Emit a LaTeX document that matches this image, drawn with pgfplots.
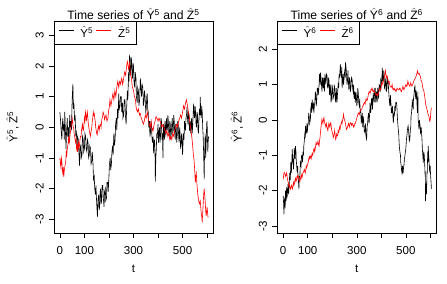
\documentclass[border=0pt]{standalone}
\usepackage{fontspec}
\setmainfont{Liberation Sans}
\usepackage{pgfplots}
\pgfplotsset{compat=1.18}

\pgfplotsset{
  rpanel/.style={
    scale only axis,
    width=159bp, height=212bp,
    xmin=-24, xmax=624,
    axis line style={line width=0.6bp},
    tick style={line width=0.6bp, black},
    tick align=outside,
    major tick length=5bp,
    xtick pos=bottom, ytick pos=left,
    xtick={0,100,200,300,400,500,600},
    xticklabels={0,100,,300,,500,},
    tick label style={font=\fontsize{11.6}{13}\selectfont},
    xticklabel style={anchor=base},
    xticklabel shift=16.5bp,
    yticklabel style={rotate=90, anchor=base},
    yticklabel shift=5.5bp,
    title style={font=\fontsize{12.2}{14}\selectfont, at={(axis description cs:0.5,1)}, anchor=base, yshift=-4.6bp, inner sep=0.5bp},
    xlabel={t},
    xlabel style={font=\fontsize{11.6}{13}\selectfont, at={(axis description cs:0.5,-0.1873)}, anchor=base},
    ylabel style={font=\fontsize{11.6}{13}\selectfont, rotate=0, anchor=base},
    legend columns=2,
    legend style={at={(axis description cs:0,1)}, anchor=north west, draw=black, line width=0.6bp,
      font=\fontsize{11.6}{13}\selectfont, inner xsep=4bp, inner ysep=3bp,
      nodes={inner sep=2bp},
      /tikz/every odd column/.append style={column sep=4.5bp},
      /tikz/every even column/.append style={column sep=1bp}},
    legend image code/.code={\draw[#1, line width=0.6bp] (0bp,2.5bp) -- (15bp,2.5bp);},
    every axis plot/.append style={line width=0.6bp},
  }
}

\begin{document}
\begin{tikzpicture}
\path[use as bounding box] (0,0) rectangle (447bp,284bp);

% Left panel
\begin{axis}[rpanel,
  at={(54bp,51bp)}, anchor=south west,
  ymin=-3.45, ymax=3.47,
  ytick={-3,-2,-1,0,1,2,3},
  yticklabels={-3,-2,-1,0,1,2,3},
  title={Time series of $\hat{\mathrm{Y}}^{\mathrm{5}}$ and $\hat{\mathrm{Z}}^{\mathrm{5}}$},
  ylabel={$\hat{\mathrm{Y}}^{\mathrm{5}}$, $\hat{\mathrm{Z}}^{\mathrm{5}}$},
  ylabel style={at={(axis description cs:-0.2296,0.5)}},
]
\addplot[black] coordinates {
(0,0.5)(3,0.2)(5,-0.1)(8,-0.4)(10,0.1)(12,0.3)(14,-0.1)(16,0.1)(18,-0.4)(20,0.5)(22,0.0)(25,-0.7)(27,-0.2)(30,0.3)(32,-0.3)(35,0.0)(37,-0.5)(40,0.4)(42,0.0)(45,0.2)(47,-0.1)(50,0.9)(53,1.42)(55,0.6)(57,0.8)(60,0.2)(62,0.4)(65,-0.3)(67,-0.1)(70,-0.7)(72,-0.3)(75,-0.4)(78,-0.9)(80,-1.25)(82,-0.7)(85,-0.6)(87,-1.0)(90,-0.9)(92,-0.3)(95,-0.4)(97,-0.8)(100,-0.7)(102,-0.2)(105,-0.3)(107,-0.7)(110,-0.8)(112,-0.4)(115,-0.5)(117,-1.0)(120,-0.9)(122,-0.6)(125,-0.7)(127,-1.2)(130,-1.1)(132,-0.8)(135,-1.2)(137,-1.7)(140,-1.6)(142,-2.0)(145,-2.2)(147,-1.9)(150,-2.5)(153,-2.92)(155,-2.4)(158,-2.2)(160,-2.7)(162,-2.6)(164,-2.1)(166,-2.0)(168,-2.5)(170,-2.4)(172,-1.9)(175,-1.9)(177,-2.3)(180,-2.6)(182,-2.1)(185,-2.0)(187,-2.4)(190,-2.3)(192,-1.8)(195,-1.8)(197,-2.1)(200,-1.6)(202,-1.2)(205,-1.0)(207,-1.4)(210,-1.2)(212,-0.8)(215,-0.6)(217,-0.9)(220,-0.2)(222,-0.6)(225,-0.4)(227,0.1)(230,0.3)(232,-0.1)(235,0.6)(237,0.3)(240,1.1)(242,0.6)(245,0.7)(247,1.0)(250,1.0)(252,0.5)(255,0.8)(257,0.3)(260,0.4)(262,0.9)(265,0.9)(267,0.4)(270,0.1)(272,0.6)(275,1.2)(277,0.9)(280,1.8)(282,1.5)(284,2.37)(286,1.9)(288,1.7)(290,2.3)(292,2.2)(294,1.7)(296,1.6)(298,2.1)(300,2.0)(302,1.5)(305,1.3)(307,1.8)(310,1.6)(312,1.0)(315,0.8)(317,1.3)(320,1.2)(322,0.7)(325,0.9)(328,1.6)(330,1.3)(333,1.0)(335,1.4)(338,1.3)(340,0.7)(342,0.8)(345,1.2)(347,1.0)(350,0.5)(352,0.6)(354,1.0)(356,1.1)(358,0.6)(360,0.5)(362,0.0)(365,0.2)(367,-0.3)(369,-0.2)(371,0.2)(373,0.1)(375,-0.3)(377,-0.5)(380,-0.3)(382,-0.85)(384,-0.5)(386,-0.4)(388,-1.0)(389,-1.77)(391,-1.0)(393,-0.7)(395,-0.2)(397,-0.3)(400,0.1)(402,-0.5)(404,-0.2)(406,0.0)(408,-0.5)(410,-0.3)(412,0.3)(414,0.2)(416,-0.4)(418,-0.2)(420,-1.0)(422,0.1)(424,-0.1)(426,-0.4)(428,0.2)(430,0.0)(432,-0.3)(434,0.3)(436,0.0)(438,-0.1)(440,0.4)(442,0.2)(444,-0.2)(446,-0.3)(448,0.2)(450,0.1)(452,-0.4)(454,-0.2)(456,0.1)(458,0.3)(460,-0.2)(462,-0.1)(464,0.4)(466,0.2)(468,-0.2)(470,-0.4)(472,0.1)(474,0.0)(476,-0.5)(478,-0.3)(480,0.2)(482,0.1)(484,-0.3)(486,-0.5)(488,0.0)(490,-0.2)(492,-0.7)(494,-0.6)(496,-0.2)(498,-0.3)(500,-0.9)(502,-0.5)(504,-0.2)(506,-0.4)(508,0.2)(510,0.0)(512,-0.1)(514,0.3)(516,0.4)(518,0.66)(520,0.3)(522,0.1)(524,0.5)(526,0.4)(528,-0.1)(530,-0.1)(531,0.2)(533,-0.2)(535,0.1)(537,0.3)(539,-0.2)(541,0.0)(543,0.4)(545,0.77)(547,0.4)(549,0.3)(551,0.7)(553,0.5)(555,0.1)(557,0.0)(559,0.5)(561,0.4)(563,-0.1)(565,-0.2)(567,0.3)(569,0.6)(571,0.4)(572,0.99)(574,0.5)(576,0.3)(578,0.7)(580,0.5)(582,0.0)(584,-0.3)(586,-0.9)(588,-1.7)(589,-1.1)(591,-0.6)(592,-0.2)(594,-1.0)(596,-0.6)(597,-0.2)(599,0.2)(600,0.2)(601,-0.3)(603,-0.8)(604,-0.5)(606,-0.3)
};
\addplot[red] coordinates {
(0,-1.0)(2,-1.2)(4,-1.3)(6,-1.0)(8,-1.1)(10,-1.4)(12,-1.5)(14,-1.3)(16,-1.62)(18,-1.4)(20,-1.3)(22,-1.2)(24,-1.1)(26,-0.8)(28,-0.9)(30,-0.7)(32,-0.6)(34,-0.5)(36,-0.3)(38,-0.5)(40,-0.4)(42,-0.2)(44,-0.1)(46,0.1)(48,0.1)(50,0.3)(52,0.2)(54,0.0)(56,0.0)(58,-0.2)(60,-0.3)(62,-0.4)(64,-0.5)(66,-0.4)(68,-0.7)(70,-0.6)(72,-0.8)(74,-0.6)(76,-0.5)(78,-0.7)(80,-0.6)(82,-0.4)(84,-0.3)(86,-0.3)(88,-0.1)(90,0.0)(92,0.1)(94,-0.1)(96,-0.1)(98,0.1)(100,0.3)(102,0.2)(104,0.5)(106,0.4)(108,0.2)(110,0.4)(112,0.5)(114,0.3)(116,0.1)(118,0.0)(120,-0.1)(122,-0.2)(124,-0.3)(126,-0.2)(128,-0.1)(130,0.0)(132,0.2)(134,0.3)(136,0.5)(138,0.4)(140,0.45)(142,0.3)(144,0.2)(146,0.0)(148,-0.1)(150,-0.2)(152,-0.25)(154,-0.1)(156,0.0)(158,0.05)(160,-0.1)(162,0.0)(164,0.1)(166,0.1)(168,0.0)(170,0.2)(172,0.3)(174,0.35)(176,0.5)(178,0.45)(180,0.4)(182,0.25)(184,0.3)(186,0.35)(188,0.4)(190,0.3)(192,0.2)(194,0.25)(196,0.3)(198,0.5)(200,0.6)(202,0.7)(204,0.9)(206,0.8)(208,0.7)(210,0.8)(212,0.9)(214,1.0)(216,1.1)(218,1.0)(220,0.9)(222,1.05)(224,1.2)(226,1.1)(228,1.0)(230,1.15)(232,1.3)(234,1.4)(236,1.5)(238,1.4)(240,1.3)(242,1.45)(244,1.5)(246,1.45)(248,1.4)(250,1.55)(252,1.6)(254,1.5)(256,1.4)(258,1.5)(260,1.6)(262,1.7)(264,1.8)(266,1.75)(268,1.7)(270,1.85)(272,2.0)(274,2.1)(276,2.15)(278,2.0)(280,1.9)(282,2.0)(284,2.1)(286,1.9)(288,1.7)(290,1.65)(292,1.6)(294,1.4)(296,1.3)(298,1.25)(300,1.2)(302,1.1)(304,1.0)(306,0.95)(308,0.9)(310,0.7)(312,0.6)(314,0.55)(316,0.5)(318,0.55)(320,0.6)(322,0.5)(324,0.4)(326,0.45)(328,0.45)(330,0.35)(332,0.3)(334,0.25)(336,0.2)(338,0.15)(340,0.1)(342,0.15)(344,0.2)(346,0.3)(348,0.4)(350,0.35)(352,0.3)(354,0.4)(356,0.5)(358,0.4)(360,0.3)(362,0.2)(364,0.1)(366,0.05)(368,0.0)(370,0.1)(372,0.2)(374,0.05)(376,-0.1)(378,-0.05)(380,-0.1)(382,0.0)(384,0.1)(386,0.15)(388,0.2)(390,0.3)(392,0.35)(394,0.3)(396,0.3)(398,0.25)(400,0.2)(402,0.25)(404,0.3)(406,0.25)(408,0.2)(410,0.15)(412,0.1)(414,0.05)(416,0.0)(418,0.05)(420,0.1)(422,0.05)(424,0.0)(426,-0.05)(428,-0.1)(430,-0.15)(432,-0.2)(434,-0.15)(436,-0.1)(438,-0.2)(440,-0.3)(442,-0.25)(444,-0.2)(446,-0.3)(448,-0.4)(450,-0.35)(452,-0.3)(454,-0.35)(456,-0.4)(458,-0.3)(460,-0.2)(462,-0.25)(464,-0.3)(466,-0.2)(468,-0.1)(470,-0.05)(472,0.0)(474,0.05)(476,0.1)(478,0.05)(480,0.0)(482,0.1)(484,0.2)(486,0.25)(488,0.3)(490,0.35)(492,0.4)(494,0.35)(496,0.3)(498,0.4)(500,0.5)(502,0.6)(504,0.7)(506,0.65)(508,0.6)(510,0.7)(512,0.8)(514,0.85)(516,0.9)(518,0.8)(520,0.7)(522,0.6)(524,0.5)(526,0.4)(528,0.3)(530,0.15)(532,0.0)(534,-0.1)(536,-0.2)(538,-0.35)(540,-0.5)(542,-0.7)(544,-0.9)(546,-1.0)(548,-1.2)(550,-1.5)(552,-1.8)(554,-1.6)(556,-1.5)(558,-1.8)(560,-2.0)(562,-2.2)(564,-2.3)(566,-2.4)(568,-2.5)(570,-2.45)(572,-2.4)(574,-2.6)(576,-2.8)(578,-2.9)(580,-3.1)(582,-2.8)(584,-2.5)(586,-2.2)(588,-2.0)(590,-2.2)(592,-2.4)(594,-2.7)(596,-2.9)(598,-2.75)(600,-2.6)(602,-2.8)(604,-2.95)
};
\legend{$\hat{\mathrm{Y}}^{\mathrm{5}}$, $\hat{\mathrm{Z}}^{\mathrm{5}}$}
\end{axis}

% Right panel
\begin{axis}[rpanel,
  at={(277.3bp,51bp)}, anchor=south west,
  ymin=-3.2, ymax=2.8,
  ytick={-3,-2,-1,0,1,2},
  yticklabels={-3,-2,-1,0,1,2},
  title={Time series of $\hat{\mathrm{Y}}^{\mathrm{6}}$ and $\hat{\mathrm{Z}}^{\mathrm{6}}$},
  ylabel={$\hat{\mathrm{Y}}^{\mathrm{6}}$, $\hat{\mathrm{Z}}^{\mathrm{6}}$},
  ylabel style={at={(axis description cs:-0.2246,0.5)}},
]
\addplot[black] coordinates {
(0,-2.15)(2,-2.4)(3,-2.67)(5,-2.3)(6,-2.2)(8,-2.5)(9,-2.0)(11,-2.1)(12,-2.3)(14,-1.9)(16,-2.2)(18,-2.0)(20,-1.8)(22,-2.1)(24,-1.9)(26,-1.6)(27,-1.49)(29,-1.7)(31,-1.2)(33,-1.5)(34,-1.4)(36,-1.0)(37,-0.83)(39,-1.2)(40,-1.1)(42,-1.4)(43,-1.3)(45,-0.8)(46,-0.9)(48,-1.1)(50,-0.74)(52,-0.9)(53,-1.1)(55,-1.3)(57,-1.49)(59,-1.3)(61,-1.7)(63,-1.8)(64,-1.96)(66,-1.6)(68,-1.6)(70,-1.2)(73,-1.3)(75,-1.0)(77,-1.0)(79,-1.2)(81,-0.9)(83,-1.0)(84,-0.74)(86,-0.6)(88,-0.4)(90,-0.5)(91,-0.17)(93,-0.4)(95,-0.3)(97,-0.1)(98,-0.36)(100,-0.2)(102,-0.1)(104,0.2)(106,0.1)(108,-0.1)(111,0.02)(112,0.3)(114,0.4)(116,0.2)(118,0.58)(120,0.4)(121,0.3)(123,0.5)(125,0.2)(127,0.4)(129,0.5)(131,0.8)(133,0.7)(135,0.4)(137,0.6)(139,0.9)(141,0.9)(143,0.7)(146,0.96)(148,1.3)(149,1.2)(151,1.0)(152,1.34)(154,1.2)(156,1.0)(158,0.8)(160,1.2)(162,1.0)(163,0.9)(165,1.2)(166,1.06)(168,0.8)(170,1.3)(172,1.1)(174,1.0)(176,1.3)(179,1.25)(181,0.9)(183,0.9)(185,1.2)(187,1.1)(189,0.7)(190,0.8)(192,1.0)(193,0.87)(195,0.5)(197,0.6)(199,1.0)(201,0.9)(203,0.6)(206,0.68)(208,1.0)(210,0.9)(212,0.6)(214,0.5)(216,0.9)(217,0.8)(219,0.5)(220,0.58)(222,0.8)(224,1.0)(226,0.9)(228,1.3)(230,1.2)(233,1.58)(235,1.3)(237,1.2)(239,1.5)(240,0.9)(242,1.1)(244,1.3)(246,1.0)(247,1.06)(249,1.3)(251,1.4)(253,1.2)(254,1.63)(256,1.5)(258,1.3)(260,1.0)(262,1.1)(264,1.4)(265,1.2)(267,0.9)(268,0.87)(270,1.2)(272,1.1)(274,0.8)(276,0.9)(278,1.2)(281,1.15)(283,0.9)(285,0.8)(287,1.0)(289,0.6)(291,0.8)(294,0.49)(296,0.8)(298,0.7)(300,0.4)(302,0.5)(304,0.9)(306,0.77)(308,0.5)(310,0.4)(312,0.6)(314,0.2)(316,0.3)(318,-0.1)(320,0.02)(322,0.2)(324,-0.2)(326,0.1)(328,0.0)(330,-0.3)(333,-0.36)(335,-0.1)(336,-0.2)(338,-0.5)(340,-0.55)(342,-0.2)(344,-0.1)(346,0.1)(348,0.2)(350,-0.1)(351,0.0)(353,0.3)(354,0.49)(356,0.2)(358,0.3)(360,0.6)(362,0.6)(364,0.3)(367,0.77)(369,0.6)(371,0.5)(373,0.9)(375,0.9)(377,0.5)(378,0.6)(380,0.8)(381,0.68)(383,0.5)(385,0.9)(387,0.8)(389,0.6)(391,1.0)(394,0.96)(396,0.8)(398,1.2)(399,1.0)(401,1.0)(403,1.3)(404,1.48)(406,1.1)(408,1.1)(410,1.4)(411,1.3)(413,0.9)(415,0.87)(417,1.1)(419,1.2)(421,0.8)(423,0.9)(425,1.2)(428,1.06)(430,0.8)(431,0.7)(433,0.5)(435,0.39)(437,0.7)(439,0.5)(441,0.2)(443,0.2)(445,0.4)(446,0.3)(448,0.0)(449,-0.08)(451,0.2)(453,0.1)(455,0.4)(457,0.3)(459,0.5)(462,0.49)(464,0.3)(465,0.1)(467,-0.1)(469,-0.27)(471,-0.4)(472,-0.6)(474,-0.8)(476,-0.92)(478,-1.0)(479,-1.2)(481,-1.3)(482,-1.4)(484,-1.5)(486,-1.3)(488,-1.5)(489,-1.49)(491,-1.3)(492,-1.3)(494,-1.1)(496,-1.02)(498,-0.9)(500,-0.8)(502,-0.6)(503,-0.5)(505,-0.4)(506,-0.3)(508,-0.2)(509,-0.17)(511,-0.3)(512,-0.4)(514,-0.6)(516,-0.55)(518,-0.3)(520,-0.2)(521,0.1)(523,0.2)(525,0.4)(526,0.58)(528,0.4)(530,0.3)(531,0.6)(533,0.7)(535,0.9)(537,0.96)(539,0.7)(540,0.6)(542,0.8)(543,0.77)(545,0.5)(547,0.2)(549,0.8)(550,0.0)(552,-0.1)(553,-0.27)(555,0.0)(557,-0.1)(559,-0.3)(560,-0.4)(562,-0.2)(564,-0.36)(566,-0.6)(567,-0.8)(569,-1.0)(571,-1.21)(573,-0.9)(575,-1.0)(577,-1.3)(578,-1.5)(579,-1.49)(580,-2.3)(582,-1.8)(584,-2.1)(586,-1.5)(587,-1.5)(589,-0.9)(590,-1.2)(591,-0.74)(593,-1.0)(594,-1.1)(596,-1.4)(598,-1.49)(599,-1.3)(601,-1.6)(603,-1.8)(604,-1.95)
};
\addplot[red] coordinates {
(0,-1.68)(3,-1.5)(6,-1.49)(8,-1.55)(10,-1.6)(12,-1.55)(14,-1.5)(16,-1.6)(18,-1.7)(20,-1.75)(22,-1.8)(24,-1.9)(26,-1.85)(28,-1.9)(30,-1.96)(32,-1.9)(34,-1.85)(36,-1.9)(38,-1.95)(40,-1.85)(42,-1.77)(44,-1.85)(46,-1.8)(48,-1.7)(50,-1.65)(52,-1.75)(54,-1.7)(56,-1.6)(58,-1.58)(60,-1.65)(62,-1.6)(64,-1.65)(66,-1.7)(68,-1.75)(70,-1.68)(72,-1.6)(74,-1.55)(76,-1.65)(78,-1.6)(80,-1.5)(82,-1.49)(84,-1.45)(86,-1.4)(88,-1.45)(90,-1.5)(92,-1.4)(94,-1.3)(96,-1.35)(98,-1.3)(100,-1.25)(102,-1.2)(104,-1.1)(106,-1.05)(108,-1.1)(110,-1.02)(112,-1.05)(114,-1.1)(116,-1.0)(118,-0.95)(120,-1.0)(122,-0.92)(124,-0.85)(126,-0.8)(128,-0.9)(130,-0.85)(132,-0.75)(134,-0.64)(136,-0.7)(138,-0.7)(140,-0.65)(142,-0.6)(144,-0.7)(146,-0.74)(148,-0.6)(150,-0.5)(152,-0.35)(154,-0.2)(156,-0.1)(158,0.02)(160,-0.05)(162,-0.1)(164,0.0)(166,0.06)(168,-0.05)(170,-0.1)(172,-0.15)(174,-0.2)(176,-0.1)(178,-0.17)(180,-0.25)(182,-0.3)(184,-0.2)(186,-0.1)(188,-0.15)(190,-0.2)(192,-0.1)(194,-0.08)(196,-0.2)(198,-0.3)(200,-0.35)(202,-0.4)(204,-0.5)(206,-0.45)(208,-0.4)(210,-0.3)(212,-0.45)(214,-0.55)(216,-0.5)(218,-0.4)(220,-0.45)(222,-0.45)(224,-0.3)(226,-0.35)(228,-0.3)(230,-0.2)(232,-0.25)(234,-0.17)(236,-0.1)(238,-0.05)(240,-0.1)(242,0.0)(244,0.05)(246,0.16)(248,0.05)(250,0.0)(252,-0.05)(254,-0.1)(256,-0.2)(258,-0.27)(260,-0.25)(262,-0.2)(264,-0.15)(266,-0.1)(268,-0.15)(270,-0.2)(272,-0.1)(274,-0.08)(276,-0.1)(278,-0.15)(280,-0.1)(282,-0.1)(284,-0.15)(286,-0.2)(288,-0.15)(290,-0.17)(292,-0.1)(294,-0.1)(296,-0.05)(298,0.0)(300,0.05)(302,0.1)(304,0.15)(306,0.2)(308,0.2)(310,0.15)(312,0.2)(314,0.25)(316,0.3)(318,0.3)(320,0.3)(322,0.35)(324,0.4)(326,0.4)(328,0.45)(330,0.49)(332,0.5)(334,0.45)(336,0.55)(338,0.6)(340,0.55)(342,0.55)(344,0.6)(346,0.68)(348,0.75)(350,0.8)(352,0.8)(354,0.75)(356,0.8)(358,0.87)(360,0.85)(362,0.9)(364,0.85)(366,0.8)(368,0.8)(370,0.85)(372,0.8)(374,0.77)(376,0.75)(378,0.7)(380,0.7)(382,0.75)(384,0.7)(386,0.68)(388,0.75)(390,0.8)(392,0.85)(394,0.9)(396,0.85)(398,0.85)(400,0.95)(402,1.06)(404,1.05)(406,1.0)(408,1.1)(410,1.15)(412,1.2)(414,1.3)(416,1.35)(417,1.39)(418,1.3)(420,1.2)(422,1.25)(424,1.25)(426,1.15)(428,1.06)(430,1.1)(432,1.1)(434,1.0)(436,0.95)(438,0.95)(440,0.92)(442,0.95)(444,1.0)(446,0.9)(448,0.85)(450,0.88)(452,0.9)(454,0.85)(456,0.87)(458,0.82)(460,0.8)(462,0.85)(464,0.9)(466,0.88)(468,0.87)(470,0.85)(472,0.85)(474,0.9)(476,0.9)(478,0.85)(480,0.82)(482,0.8)(484,0.85)(486,0.9)(488,0.95)(490,0.9)(492,0.85)(494,0.9)(496,0.92)(498,0.95)(500,1.0)(502,0.98)(504,0.95)(506,1.0)(508,1.1)(510,1.05)(512,1.0)(514,0.98)(516,0.95)(518,1.0)(520,1.05)(522,1.0)(524,0.96)(526,0.98)(528,1.0)(530,1.05)(532,1.1)(534,1.12)(536,1.15)(538,1.18)(540,1.2)(542,1.25)(544,1.3)(546,1.35)(547,1.39)(548,1.35)(550,1.3)(552,1.3)(554,1.32)(556,1.28)(558,1.25)(560,1.2)(562,1.1)(564,1.1)(566,1.05)(568,0.95)(570,0.87)(572,0.85)(574,0.8)(576,0.7)(578,0.6)(580,0.5)(582,0.39)(584,0.35)(586,0.3)(588,0.25)(590,0.16)(592,0.15)(594,0.1)(596,0.0)(598,-0.04)(600,0.05)(601,0.15)(602,0.25)(604,0.34)
};
\legend{$\hat{\mathrm{Y}}^{\mathrm{6}}$, $\hat{\mathrm{Z}}^{\mathrm{6}}$}
\end{axis}
\end{tikzpicture}
\end{document}
